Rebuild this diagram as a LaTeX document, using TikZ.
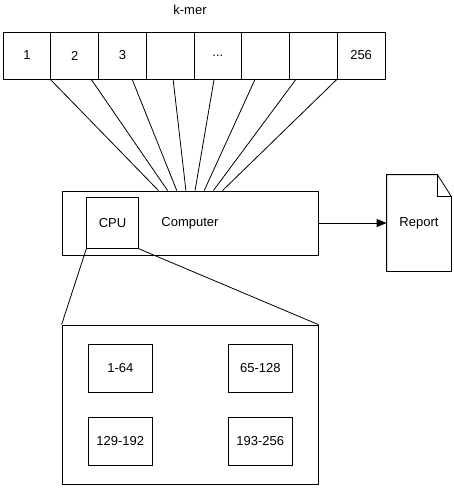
\documentclass[tikz,border=0pt]{standalone}
\usepackage{fontspec}
\setmainfont{Liberation Sans}
\usepackage{tikz}
\usetikzlibrary{matrix,calc,arrows.meta}

\begin{document}
\begin{tikzpicture}[x=1pt,y=-1pt,line width=0.8pt,
    every node/.style={font=\fontsize{13}{15}\selectfont},
    part/.style={rectangle,draw,minimum width=64pt,minimum height=48pt}]
    \useasboundingbox (0,0) rectangle (454,488);

    \node (kmer) at (190,10) {k-mer};
    \matrix (m) [matrix of nodes, nodes in empty cells, column sep=-\pgflinewidth,
        nodes={rectangle,draw,anchor=center,minimum width=47.75pt,minimum height=47pt} ] at (194,55.5) {
            1 & 2 & 3 & & ... & & & 256 \\
    };

    \node (comp) [rectangle,draw,minimum width=256pt,minimum height=64pt] at (190,223) {};
    \node (cpu) [rectangle,draw,minimum width=51.5pt,minimum height=51pt] at (112.5,222.8) {CPU};
    \node (comptext) at (190,223) {Computer};

    %\foreach \i in {0,...,7} \draw (m-1-\i.south west) -- (comp.north);
    \foreach \i in {0,...,7}
        \draw ($(m-1-2.south west)!\i/7!(m-1-8.south west)$) -- ($(comp.north)+(-31.5+\i*9.14,0)$);

    \node (report) [minimum width=64pt,minimum height=96pt] at (419,223) {Report};
    \draw (report.south west) -- (report.north west) -- ([xshift=-14pt]report.north east)
        -- ([yshift=-22pt]report.north east) -- (report.south east) -- cycle;
    \draw ([xshift=-14pt]report.north east) -- ++(0,22) -- ([yshift=-22pt]report.north east);
    \draw[-{Triangle[length=10pt,width=8pt]}] (comp.east) -- (report.west);

    \node (cores) [rectangle,draw,minimum width=256pt,minimum height=159pt] at (190,404.5) {};
    \draw (cpu.south west) -- (cores.north west);
    \draw (cpu.south east) -- (cores.north east);

    \node (r1) [part] at (120.3,368.3) {1-64};
    \node (r2) [part] at (260.3,368.3) {65-128};
    \node (r3) [part] at (120.3,441.5) {129-192};
    \node (r4) [part] at (260.3,441.5) {193-256};
    \end{tikzpicture}
\end{document}
